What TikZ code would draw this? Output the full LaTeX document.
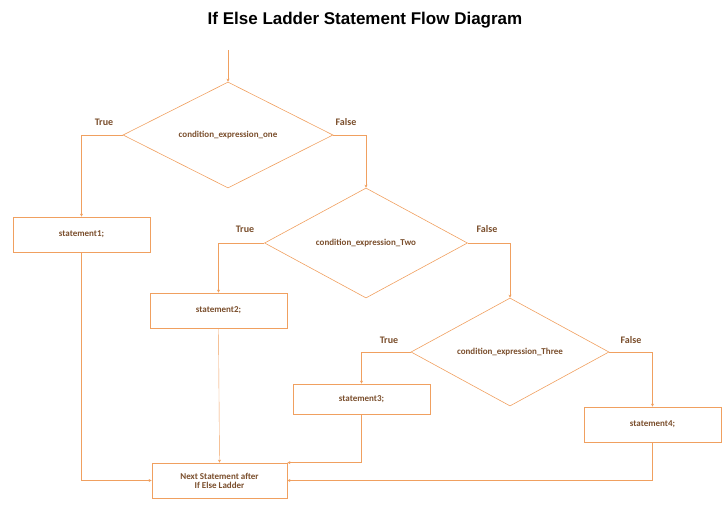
\documentclass[tikz,border=0pt]{standalone}
\usepackage{fontspec}
\setmainfont{Carlito}
\newfontfamily\titlefont{Liberation Sans}
\usetikzlibrary{arrows.meta, positioning, shapes.geometric, calc}
\definecolor{lineor}{HTML}{F0A060}
\definecolor{textbr}{HTML}{7A4E2C}
\tikzset{
  cond/.style={draw=lineor, semithick, diamond, aspect=2, inner sep=0pt, font=\bfseries\small, text=textbr},
  stmt/.style={draw=lineor, thick, rectangle, font=\bfseries\small, text=textbr, align=center},
  lbl/.style={font=\bfseries, text=textbr},
  flow/.style={draw=lineor, -{Stealth[length=3pt,width=3pt]}}
}
\begin{document}
\begin{tikzpicture}[x=1pt,y=-1pt]
\useasboundingbox (0,0) rectangle (728,504);
% Title
\node[font=\titlefont\bfseries\fontsize{17}{20}\selectfont] (title) at (365,20) {If Else Ladder Statement Flow Diagram};

% Decisions
\node[cond, minimum width=210pt, minimum height=106pt] (c1) at (228,135) {condition\_expression\_one};
\node[cond, minimum width=203pt, minimum height=110pt] (c2) at (366,243) {condition\_expression\_Two};
\node[cond, minimum width=198pt, minimum height=108pt] (c3) at (510,352) {condition\_expression\_Three};

% Statements
\node[stmt, minimum width=137pt, minimum height=35pt] (s1) at (81.5,234.5) {statement1;};
\node[stmt, minimum width=137pt, minimum height=35pt] (s2) at (218.5,310.5) {statement2;};
\node[stmt, minimum width=137pt, minimum height=30pt] (s3) at (361.5,399) {statement3;};
\node[stmt, minimum width=137pt, minimum height=35pt] (s4) at (652.5,424.5) {statement4;};
\node[stmt, minimum width=135pt, minimum height=35pt] (next) at (219.5,480.5) {Next Statement after\\[-2pt]If Else Ladder};

% Labels
\node[lbl] (t1) at (104,122) {True};
\node[lbl] (f1) at (346,122) {False};
\node[lbl] (t2) at (245,229) {True};
\node[lbl] (f2) at (487,229) {False};
\node[lbl] (t3) at (389,340) {True};
\node[lbl] (f3) at (631,340) {False};

% Connectors
\coordinate (start) at (228,50);
\draw[flow] (start) -- (c1.north);
\draw[flow] (c1.west) -| (s1.north);
\draw[flow] (c1.east) -| (c2.north);
\draw[flow] (c2.west) -| (s2.north);
\draw[flow] (c2.east) -| (c3.north);
\draw[flow] (c3.west) -| (s3.north);
\draw[flow] (c3.east) -| (s4.north);
\draw[flow] (s1.south) |- (next.west);
\draw[flow] (s2.south) -- (next.north);
\draw[flow] (s3.south) |- (next.north east);
\draw[flow] (s4.south) |- (next.east);
\end{tikzpicture}
\end{document}
